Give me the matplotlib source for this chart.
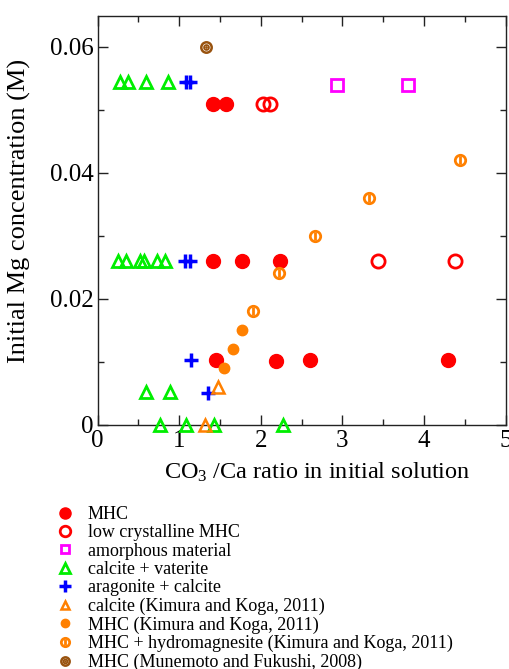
import matplotlib
matplotlib.use("Agg")
import matplotlib.pyplot as plt
from matplotlib.legend_handler import HandlerTuple

plt.rcParams['font.family'] = ['Liberation Serif', 'DejaVu Serif']
plt.rcParams['mathtext.fontset'] = 'custom'
plt.rcParams['mathtext.rm'] = 'Liberation Serif'
plt.rcParams['mathtext.it'] = 'Liberation Serif:italic'

# ---- data ----
mhc_x = [1.41, 1.575, 1.42, 1.77, 2.24, 1.45, 2.19, 2.61, 4.30]
mhc_y = [0.051, 0.051, 0.026, 0.026, 0.026, 0.0103, 0.0101, 0.0102, 0.0102]

lowmhc_x = [2.03, 2.11, 3.44, 4.385]
lowmhc_y = [0.051, 0.051, 0.026, 0.026]

amorph_x = [2.94, 3.81]
amorph_y = [0.054, 0.054]

calvat_x = [0.276, 0.378, 0.59, 0.868, 0.255, 0.35, 0.52, 0.575, 0.725, 0.827,
            0.59, 0.89, 0.766, 1.09, 1.43, 2.27]
calvat_y = [0.0545, 0.0545, 0.0545, 0.0545, 0.026, 0.026, 0.026, 0.026, 0.026, 0.026,
            0.0052, 0.0052, 0.0, 0.0, 0.0, 0.0]

aracal_x = [1.08, 1.13, 1.07, 1.13, 1.15, 1.35]
aracal_y = [0.0545, 0.0545, 0.026, 0.026, 0.0103, 0.005]

kk_cal_x = [1.48, 1.32]
kk_cal_y = [0.006, 0.0]

kk_mhc_x = [1.555, 1.66, 1.77]
kk_mhc_y = [0.009, 0.012, 0.015]

kk_hyd_x = [1.90, 2.22, 2.66, 3.33, 4.44]
kk_hyd_y = [0.018, 0.024, 0.030, 0.036, 0.042]

mf_x = [1.33]
mf_y = [0.060]

labels = ["MHC", "low crystalline MHC", "amorphous material", "calcite + vaterite",
          "aragonite + calcite", "calcite (Kimura and Koga, 2011)",
          "MHC (Kimura and Koga, 2011)",
          "MHC + hydromagnesite (Kimura and Koga, 2011)",
          "MHC (Munemoto and Fukushi, 2008)"]

RED = '#ff0000'
MAG = '#ff00ff'
GRN = '#00ee00'
BLU = '#0000ff'
ORA = '#ff8000'
BRN = '#99530f'

fig = plt.figure(figsize=(5.09, 6.69), dpi=100)
ax = fig.add_axes([97.5/509, 1-424.5/669, 408/509, 409/669])

kw = dict(linestyle='none', clip_on=False, zorder=3)
h_mhc, = ax.plot(mhc_x, mhc_y, marker='o', ms=10, mfc=RED, mec=RED, **kw)
h_low, = ax.plot(lowmhc_x, lowmhc_y, marker='o', ms=9.5, mfc='none', mec=RED, mew=2, **kw)
h_am, = ax.plot(amorph_x, amorph_y, marker='s', ms=8, mfc='none', mec=MAG, mew=2, **kw)
h_cv, = ax.plot(calvat_x, calvat_y, marker='^', ms=9, mfc='none', mec=GRN, mew=2, **kw)
h_ac, = ax.plot(aracal_x, aracal_y, marker='+', ms=10, mec=BLU, mew=2.5, **kw)
h_kc, = ax.plot(kk_cal_x, kk_cal_y, marker='^', ms=8, mfc='none', mec=ORA, mew=1.8, **kw)
h_km, = ax.plot(kk_mhc_x, kk_mhc_y, marker='o', ms=7.5, mfc=ORA, mec=ORA, **kw)
h_kh1, = ax.plot(kk_hyd_x, kk_hyd_y, marker='o', ms=7.5, mfc='none', mec=ORA, mew=2, **kw)
h_kh2, = ax.plot(kk_hyd_x, kk_hyd_y, marker='|', ms=6, mec=ORA, mew=2, **kw)
h_mf1, = ax.plot(mf_x, mf_y, marker='o', ms=7.5, mfc='none', mec=BRN, mew=1.8, **kw)
h_mf2, = ax.plot(mf_x, mf_y, marker='o', ms=3.5, mfc='none', mec=BRN, mew=1.3, **kw)
h_mf3, = ax.plot(mf_x, mf_y, marker='o', ms=1.0, mfc=BRN, mec=BRN, **kw)

ax.set_xlim(0, 5)
ax.set_ylim(0, 0.065)
ax.set_xticks([0, 1, 2, 3, 4, 5])
ax.set_xticklabels(['0', '1', '2', '3', '4', '5'])
ax.set_xticks([0.5, 1.5, 2.5, 3.5, 4.5], minor=True)
ax.set_yticks([0, 0.02, 0.04, 0.06])
ax.set_yticklabels(['0', '0.02', '0.04', '0.06'])
ax.set_yticks([0.01, 0.03, 0.05], minor=True)
ax.tick_params(which='both', direction='in', top=True, right=True, labelsize=18,
               color='#222222', width=1)
ax.tick_params(which='major', length=7)
ax.tick_params(which='minor', length=4)
ax.tick_params(axis='x', pad=4)
ax.tick_params(axis='y', pad=3)
for s in ax.spines.values():
    s.set_linewidth(1)
    s.set_color('#222222')

ax.set_xlabel(r'CO$_3$ /Ca ratio in initial solution', fontsize=17.5)
ax.xaxis.set_label_coords(0.538, -0.089)
ax.set_ylabel('Initial Mg concentration (M)', fontsize=19)
ax.yaxis.set_label_coords(-0.163, 0.522)

handles = [h_mhc, h_low, h_am, h_cv, h_ac, h_kc, h_km, (h_kh1, h_kh2), (h_mf1, h_mf2, h_mf3)]
leg = fig.legend(handles, labels, loc='upper left',
                 bbox_to_anchor=(56/509, 1-506/669), bbox_transform=fig.transFigure,
                 frameon=False, borderpad=0, borderaxespad=0, handlelength=1.0,
                 handletextpad=0.75, labelspacing=0.075, markerscale=0.8,
                 prop={'family': 'Liberation Serif', 'size': 13},
                 handler_map={tuple: HandlerTuple(ndivide=1)})

fig.savefig('out.png', dpi=100)
